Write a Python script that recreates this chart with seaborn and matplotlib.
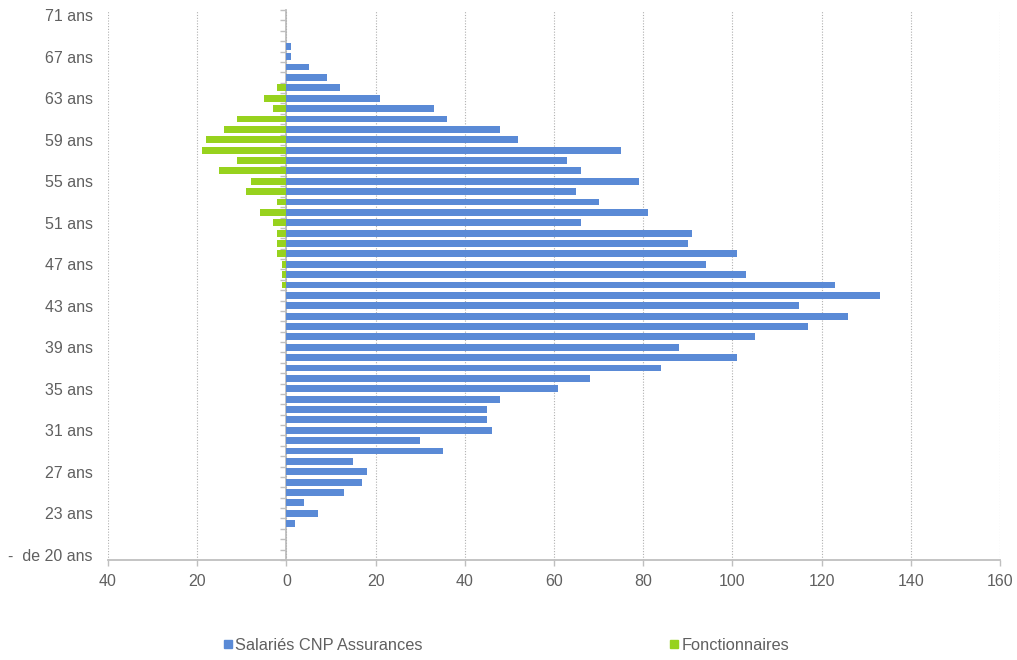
import numpy as np
import pandas as pd
import matplotlib
matplotlib.use("Agg")
import matplotlib.pyplot as plt
from matplotlib.ticker import FuncFormatter, NullFormatter
from matplotlib.lines import Line2D
import seaborn as sns

# ---- data ----
ages = ["-  de 20 ans"] + [f"{a} ans" for a in range(20, 72)]

salaries_cnp = [0, 0, 0, 2, 7, 4, 13, 17, 18, 15,
                35, 30, 46, 45, 45, 48, 61, 68, 84, 101,
                88, 105, 117, 126, 115, 133, 123, 103, 94, 101,
                90, 91, 66, 81, 70, 65, 79, 66, 63, 75,
                52, 48, 36, 33, 21, 12, 9, 5, 1, 1,
                0, 0, 0]

fonctionnaires = [0, 0, 0, 0, 0, 0, 0, 0, 0, 0,
                  0, 0, 0, 0, 0, 0, 0, 0, 0, 0,
                  0, 0, 0, 0, 0, 0, -1, -1, -1, -2,
                  -2, -2, -3, -6, -2, -9, -8, -15, -11, -19,
                  -18, -14, -11, -3, -5, -2, 0, 0, 0, 0,
                  0, 0, 0]

x_ticks = [-40, -20, 0, 20, 40, 60, 80, 100, 120, 140, 160]
series_names = ["Salariés CNP Assurances", "Fonctionnaires"]

BLUE = "#5a8ad6"
GREEN = "#97d21e"
TEXT = "#606060"
AXIS = "#bfbfbf"

sns.set_theme(style="white")
plt.rcParams["font.family"] = ["Liberation Sans", "DejaVu Sans"]

df = pd.DataFrame({"age": ages, "cnp": salaries_cnp, "fonc": fonctionnaires})
order = ages[::-1]  # oldest at top

fig = plt.figure(figsize=(10.17, 6.6), dpi=100)
ax = fig.add_axes([108 / 1017, 1 - 560 / 660, (1000 - 108) / 1017, (560 - 10) / 660])

sns.barplot(data=df, x="cnp", y="age", order=order, orient="h", color=BLUE,
            saturation=1, width=0.66, linewidth=0, ax=ax)
sns.barplot(data=df, x="fonc", y="age", order=order, orient="h", color=GREEN,
            saturation=1, width=0.66, linewidth=0, ax=ax)
for p in ax.patches:
    if p.get_width() == 0:
        p.set_visible(False)

ax.set_xlim(x_ticks[0], x_ticks[-1])
ax.set_xticks(x_ticks)
ax.xaxis.set_major_formatter(FuncFormatter(lambda v, pos: f"{abs(v):.0f}"))

shown = ages[::4]
ax.set_yticks([order.index(l) for l in shown], labels=shown)

ax.set_xlabel("")
ax.set_ylabel("")
for s in ["left", "top", "right"]:
    ax.spines[s].set_visible(False)
ax.spines["bottom"].set_color(AXIS)
ax.spines["bottom"].set_linewidth(1.3)

ax.tick_params(axis="y", length=0, pad=11, labelsize=11.5, labelcolor=TEXT)
ax.tick_params(axis="x", bottom=True, length=4, width=1, color=AXIS, pad=6,
               labelsize=11.5, labelcolor=TEXT)
ax.grid(axis="x", linestyle=(0, (1, 1.5)), color="#b0b0b0", linewidth=0.8)
ax.grid(axis="y", visible=False)
ax.set_axisbelow(True)

# category axis drawn at x = 0 with boundary tick marks
zero_frac = (0 - x_ticks[0]) / (x_ticks[-1] - x_ticks[0])
sec = ax.secondary_yaxis(zero_frac)
sec.set_yticks(np.arange(-0.5, len(ages), 1))
sec.yaxis.set_major_formatter(NullFormatter())
sec.tick_params(length=4, width=1, color=AXIS)
for s in sec.spines.values():
    s.set_color(AXIS)
    s.set_linewidth(1.3)

handles = [Line2D([], [], marker="s", linestyle="none", color=BLUE, markersize=6, label=series_names[0]),
           Line2D([], [], marker="s", linestyle="none", color=GREEN, markersize=6, label=series_names[1])]
fig.legend(handles=handles, loc="center", bbox_to_anchor=(0.497, 0.022), ncol=2,
           frameon=False, fontsize=11.8, columnspacing=15.0, handletextpad=0.1,
           handlelength=0.7, labelcolor=TEXT)

fig.savefig("out.png", dpi=100)
